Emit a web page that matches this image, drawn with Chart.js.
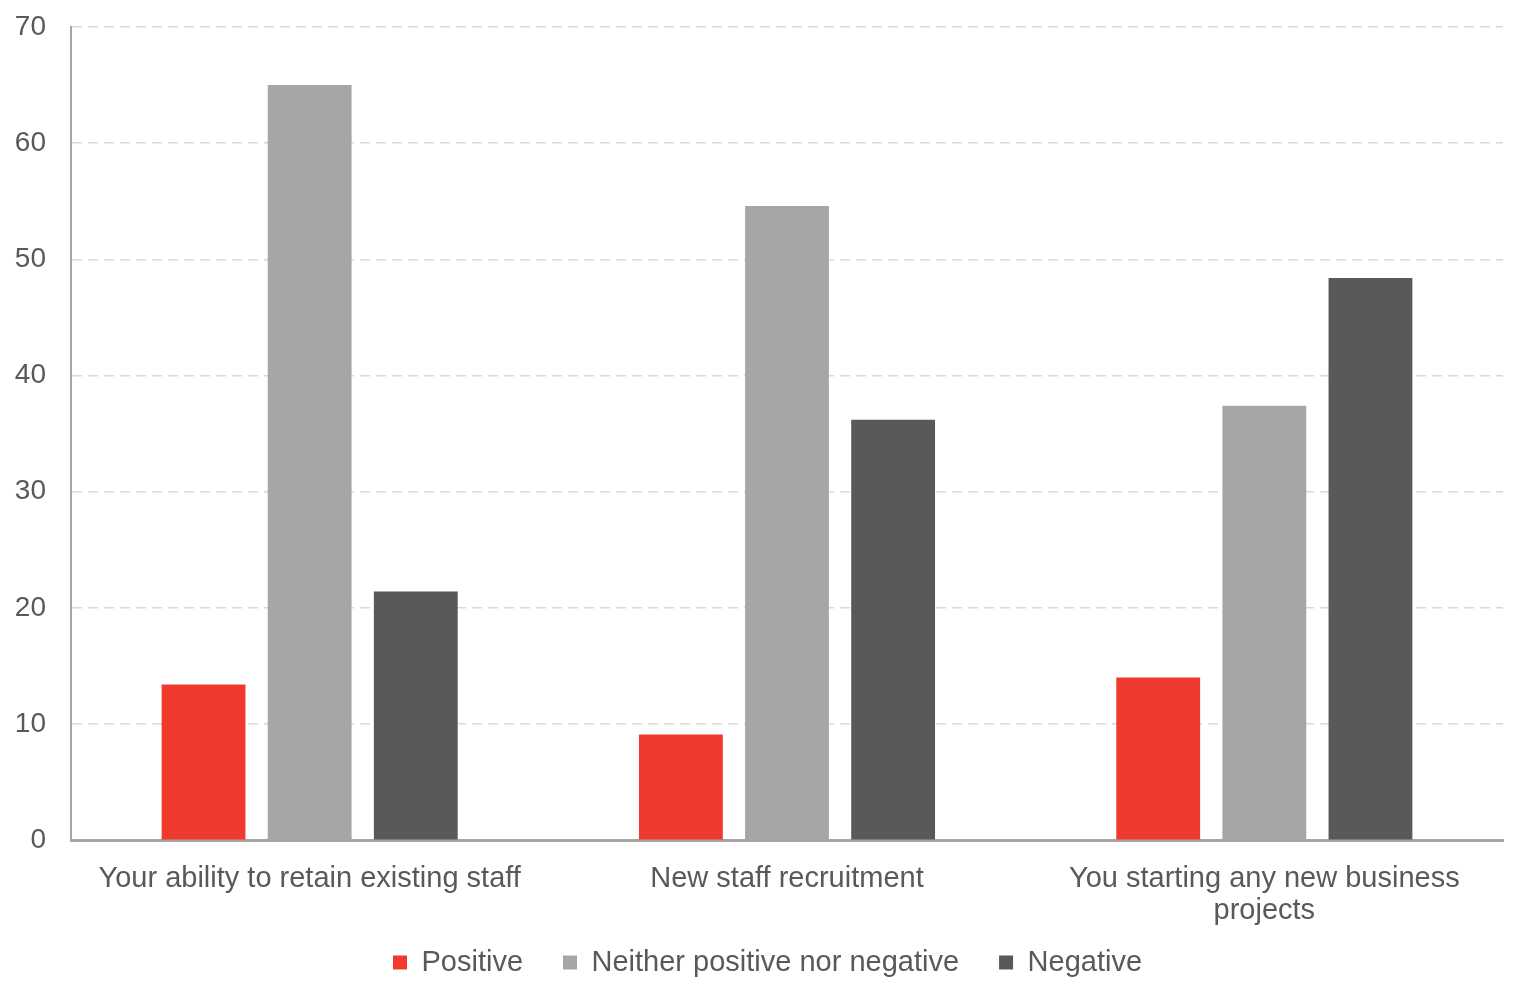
<!DOCTYPE html>
<html>
<head>
<meta charset="utf-8">
<script src="https://cdn.jsdelivr.net/npm/chart.js@4"></script>
<style>
  html, body { margin: 0; padding: 0; background: #fff; }
  #wrap { width: 1527px; height: 996px; }
</style>
</head>
<body>
<div id="wrap"><canvas id="impactChart"></canvas></div>
<script>
// Survey data (%)
const categories = [
  'Your ability to retain existing staff',
  'New staff recruitment',
  ['You starting any new business', 'projects']
];
const positive = [13.4, 9.1, 14.0];
const neither = [65.0, 54.6, 37.4];
const negative = [21.4, 36.2, 48.4];
const yTicks = [0, 10, 20, 30, 40, 50, 60, 70];

const FONT = 'Liberation Sans, Arial, sans-serif';

// nudge the legend up/right so it sits closer to the two-line axis label
const legendNudge = {
  id: 'legendNudge',
  afterLayout(chart) {
    const lg = chart.legend;
    if (!lg) return;
    lg.top -= 34;
    lg.bottom -= 34;
    lg.left += 16;
    lg.right += 16;
  }
};

const ctx = document.getElementById('impactChart').getContext('2d');
new Chart(ctx, {
  type: 'bar',
  data: {
    labels: categories,
    datasets: [
      { label: 'Positive', data: positive, backgroundColor: '#EF3A2D' },
      { label: 'Neither positive nor negative', data: neither, backgroundColor: '#A6A6A6' },
      { label: 'Negative', data: negative, backgroundColor: '#595959' }
    ]
  },
  plugins: [legendNudge],
  options: {
    responsive: true,
    maintainAspectRatio: false,
    animation: false,
    categoryPercentage: 0.667,
    barPercentage: 0.79,
    layout: { padding: { top: 27, right: 24, left: 0, bottom: -25 } },
    plugins: {
      tooltip: { enabled: false },
      legend: {
        position: 'bottom',
        labels: {
          boxWidth: 14,
          boxHeight: 14,
          padding: 40,
          color: '#595959',
          font: { family: FONT, size: 29 }
        }
      }
    },
    scales: {
      x: {
        grid: { display: false },
        border: { display: true, color: '#A6A6A6', width: 3 },
        ticks: {
          color: '#595959',
          padding: 15,
          maxRotation: 0,
          font: { family: FONT, size: 29, lineHeight: 1.1 }
        }
      },
      y: {
        min: 0,
        max: 70,
        afterBuildTicks: axis => { axis.ticks = yTicks.map(v => ({ value: v })); },
        afterFit: s => { s.width = 71; s.paddingTop = 0; },
        grid: { color: '#D9D9D9', lineWidth: 1.5, drawTicks: false },
        border: { display: true, color: '#A6A6A6', width: 2, dash: [10, 6] },
        ticks: {
          color: '#595959',
          padding: 25,
          font: { family: FONT, size: 28 }
        }
      }
    }
  }
});
</script>
</body>
</html>
